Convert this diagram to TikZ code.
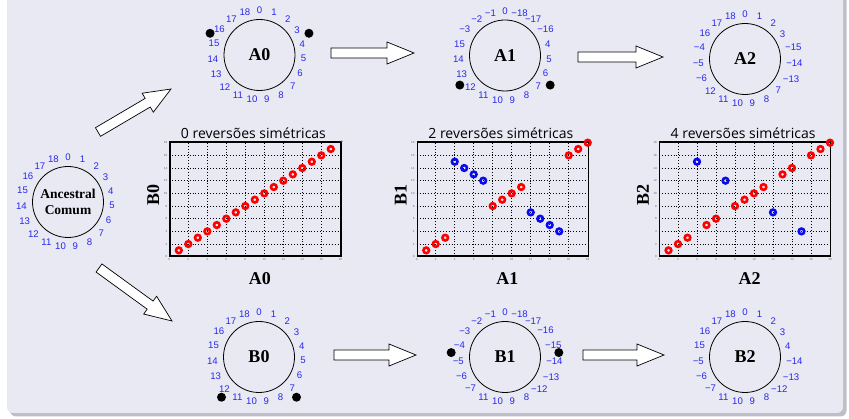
\documentclass[tikz,border=0pt]{standalone}
\usepackage{fontspec}
\setmainfont{Liberation Serif}
\newfontfamily\numfont{Liberation Sans}
\newfontfamily\ttlfont{Open Sans}
\usetikzlibrary{calc}
\definecolor{bgl}{RGB}{233,233,243}
\definecolor{shd}{RGB}{190,190,200}
\definecolor{numblue}{RGB}{40,40,235}
\definecolor{mkred}{RGB}{255,0,0}
\definecolor{mkblue}{RGB}{10,10,240}
\tikzset{
  circ/.style={circle, draw, line width=0.8pt, minimum size=71pt, inner sep=0pt,
    font=\fontsize{18}{20}\selectfont\bfseries},
  lab/.style={text=numblue, font=\numfont\fontsize{9.6}{10}\selectfont, inner sep=0.7pt},
  dotm/.style={circle, fill=black, minimum size=9pt, inner sep=0pt},
  blk/.style={draw=black, fill=white, line width=0.7pt, line join=miter},
  grd/.style={black, line width=0.6pt, dash pattern=on 0.7pt off 2.2pt},
  tickl/.style={text=black!60, font=\numfont\fontsize{3}{3}\selectfont, inner sep=0.5pt},
  frame/.style={draw, line width=1.3pt, inner sep=0pt},
  mk/.style={line width=2.6pt},
  ttl/.style={font=\ttlfont\fontsize{14}{16}\selectfont, inner sep=0pt},
  axlab/.style={font=\fontsize{18}{20}\selectfont\bfseries, inner sep=0pt}
}
\newcommand\ringlabels[2]{%
  \foreach \t [count=\k from 0] in {#2} {%
    \pgfmathsetmacro\ang{90-\k*360/19}%
    \pgfmathsetmacro\anc{\ang+180}%
    \node[lab, anchor=\anc] (#1l\k) at ($(#1)+(\ang:40.5pt)$) {\t};
  }}
\newcommand\arsw{5pt}
\newcommand\arhw{11pt}
\newcommand\arhl{27pt}
\newcommand\blockarrow[3]{%
  \coordinate (#1b) at ($(#3)!\arhl!(#2)$);
  \draw[blk] ($(#2)!\arsw!90:(#3)$) -- ($(#1b)!\arsw!90:(#3)$) -- ($(#1b)!\arhw!90:(#3)$)
    -- (#3) -- ($(#1b)!\arhw!-90:(#3)$) -- ($(#1b)!\arsw!-90:(#3)$) -- ($(#2)!\arsw!-90:(#3)$) -- cycle;
}
\newcommand\scatterplot[7]{%
  \begin{scope}[shift={(#2,#3)}, x=9.5pt, y=6.333pt]
    \foreach \v in {2,4,...,16} {\draw[grd] (\v,0) -- (\v,18); \draw[grd] (0,\v) -- (18,\v);}
    \foreach \v in {0,2,...,18} {\node[tickl, anchor=north] at (\v,-0.15) {\v};
      \node[tickl, anchor=east] at (-0.15,\v) {\v};}
    \node[frame, minimum width=171pt, minimum height=114pt, anchor=south west] (#1) at (0,0) {};
    \foreach \px/\py/\c in {#7} {\draw[mk, \c] (\px,\py) circle (2.8pt);}
    \node[ttl, anchor=base] (#1t) at ($(#1.north)+(-2pt,3.3pt)$) {#4};
    \node[axlab, rotate=90] (#1y) at ($(#1.west)+(-16pt,4pt)$) {#5};
    \node[axlab] (#1x) at ($(#1.south)+(4.5pt,-22pt)$) {#6};
  \end{scope}
}
\begin{document}
\begin{tikzpicture}[x=1pt, y=-1pt]
\useasboundingbox (0,0) rectangle (849,419);
\fill[shd, rounded corners=6pt] (10,-10) rectangle (846.5,416.5);
\fill[bgl, rounded corners=6pt] (7,-10) rectangle (843,413);

% circles
\node[circ, align=center, font=\fontsize{13.5}{16.3}\selectfont\bfseries] (Anc) at (68,202) {Ancestral\\Comum};
\node[circ] (A0) at (259.5,55) {A0};
\node[circ] (A1) at (505,55.5) {A1};
\node[circ] (A2) at (745,59) {A2};
\node[circ] (B0) at (259,357) {B0};
\node[circ] (B1) at (505,357) {B1};
\node[circ] (B2) at (745,357) {B2};

\ringlabels{Anc}{0,1,2,3,4,5,6,7,8,9,10,11,12,13,14,15,16,17,18}
\ringlabels{A0}{0,1,2,3,4,5,6,7,8,9,10,11,12,13,14,15,16,17,18}
\ringlabels{A1}{0,−18,−17,−16,4,5,6,7,8,9,10,11,12,13,14,15,−3,−2,−1}
\ringlabels{A2}{0,1,2,3,−15,−14,−13,7,8,9,10,11,12,−6,−5,−4,16,17,18}
\ringlabels{B0}{0,1,2,3,4,5,6,7,8,9,10,11,12,13,14,15,16,17,18}
\ringlabels{B1}{0,−18,−17,−16,−15,−14,−13,−12,8,9,10,11,−7,−6,−5,−4,−3,−2,−1}
\ringlabels{B2}{0,1,2,3,4,−14,−13,−12,8,9,10,11,−7,−6,−5,15,16,17,18}

% breakpoints
\node[dotm] (A0d1) at ($(A0)+(156.3:54pt)$) {};
\node[dotm] (A0d2) at ($(A0)+(23.7:54pt)$) {};
\node[dotm] (A1d1) at ($(A1)+(213.2:54pt)$) {};
\node[dotm] (A1d2) at ($(A1)+(-33.2:54pt)$) {};
\node[dotm] (B0d1) at ($(B0)+(-133:55pt)$) {};
\node[dotm] (B0d2) at ($(B0)+(-47:55pt)$) {};
\node[dotm] (B1d1) at ($(B1)+(175.3:54pt)$) {};
\node[dotm] (B1d2) at ($(B1)+(4.7:54pt)$) {};

% block arrows
\coordinate (t1) at (98,132);  \coordinate (h1) at (171,89);
\coordinate (t2) at (99,268);  \coordinate (h2) at (172,321);
\coordinate (t3) at (331,53);  \coordinate (h3) at (414,53);
\coordinate (t4) at (578,57);  \coordinate (h4) at (663,57);
\coordinate (t5) at (334,355); \coordinate (h5) at (416,355);
\coordinate (t6) at (583,355); \coordinate (h6) at (664,355);
\blockarrow{ar1}{t1}{h1}
\blockarrow{ar2}{t2}{h2}
\blockarrow{ar3}{t3}{h3}
\blockarrow{ar4}{t4}{h4}
\blockarrow{ar5}{t5}{h5}
\blockarrow{ar6}{t6}{h6}

% plots
\scatterplot{P1}{169.3}{256.7}{0 reversões simétricas}{B0}{A0}{1/1/mkred,2/2/mkred,3/3/mkred,4/4/mkred,5/5/mkred,6/6/mkred,7/7/mkred,8/8/mkred,9/9/mkred,10/10/mkred,11/11/mkred,12/12/mkred,13/13/mkred,14/14/mkred,15/15/mkred,16/16/mkred,17/17/mkred}
\fill[mkred] (P1.north east) circle (1pt);
\scatterplot{P2}{416.7}{256.7}{2 reversões simétricas}{B1}{A1}{1/1/mkred,2/2/mkred,3/3/mkred,4/15/mkblue,5/14/mkblue,6/13/mkblue,7/12/mkblue,8/8/mkred,9/9/mkred,10/10/mkred,11/11/mkred,12/7/mkblue,13/6/mkblue,14/5/mkblue,15/4/mkblue,16/16/mkred,17/17/mkred,18/18/mkred}
\scatterplot{P3}{659}{256.7}{4 reversões simétricas}{B2}{A2}{1/1/mkred,2/2/mkred,3/3/mkred,4/15/mkblue,5/5/mkred,6/6/mkred,7/12/mkblue,8/8/mkred,9/9/mkred,10/10/mkred,11/11/mkred,12/7/mkblue,13/13/mkred,14/14/mkred,15/4/mkblue,16/16/mkred,17/17/mkred,18/18/mkred}
\end{tikzpicture}
\end{document}
